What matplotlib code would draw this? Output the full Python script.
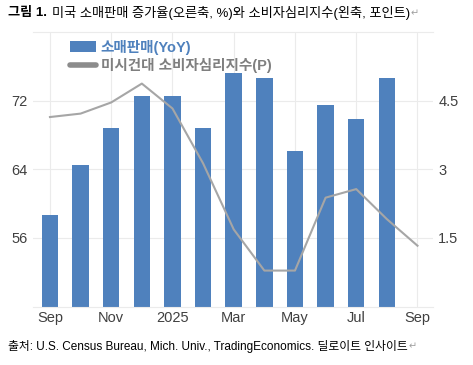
import matplotlib

matplotlib.use("Agg")
import matplotlib.pyplot as plt
from matplotlib.lines import Line2D
from matplotlib.patches import Patch

plt.rcParams["font.family"] = ["Liberation Sans", "Noto Sans CJK KR", "DejaVu Sans"]

# monthly data, Sep 2024 .. Sep 2025
months = ["Sep", "Oct", "Nov", "Dec", "2025", "Feb", "Mar", "Apr", "May", "Jun", "Jul", "Aug", "Sep"]
retail_yoy = [2.0, 3.1, 3.9, 4.6, 4.6, 3.9, 5.1, 5.0, 3.4, 4.4, 4.1, 5.0, None]
sentiment = [70.1, 70.5, 71.8, 74.0, 71.1, 64.7, 57.0, 52.2, 52.2, 60.7, 61.7, 58.2, 55.1]
tick_idx = [0, 2, 4, 6, 8, 10, 12]

BAR_COLOR = "#4f81bd"
LINE_COLOR = "#a6a6a6"
GRID_COLOR = "#ebebeb"
TEXT_COLOR = "#404040"

fig = plt.figure(figsize=(4.73, 3.65), dpi=100)
ax = fig.add_axes([0.070, 0.160, 0.845, 0.752])

x = list(range(len(months)))
bar_x = [i for i, v in zip(x, retail_yoy) if v is not None]
bar_v = [v for v in retail_yoy if v is not None]
ax.bar(bar_x, bar_v, width=0.54, color=BAR_COLOR, zorder=2)
ax.set_ylim(0, 6)
ax.set_xlim(-0.55, 12.5)
ax.set_xticks(tick_idx)
ax.set_xticklabels([months[i] for i in tick_idx])
ax.grid(True, color=GRID_COLOR, linewidth=0.8, zorder=0)
ax.set_axisbelow(True)
for side in ["left", "right"]:
    ax.spines[side].set_visible(False)
ax.spines["top"].set_color(GRID_COLOR)
ax.spines["bottom"].set_color(GRID_COLOR)

ax_line = ax.twinx()
ax_line.plot(x, sentiment, color=LINE_COLOR, linewidth=1.5, zorder=3)
ax_line.set_ylim(48, 80)
ax_line.set_yticks([56, 64, 72])
ax_line.yaxis.tick_left()
ax_line.tick_params(length=0, labelsize=10.5, colors=TEXT_COLOR, pad=4)
for spine in ax_line.spines.values():
    spine.set_visible(False)

# twinx moves the host ticks to the left, so put them back on the right
ax.yaxis.tick_right()
ax.set_yticks([1.5, 3, 4.5])
ax.set_yticklabels(["1.5", "3", "4.5"])
ax.tick_params(length=0, labelsize=10.5, colors=TEXT_COLOR, pad=4)
ax.tick_params(axis="x", pad=3)

handles = [
    Patch(facecolor=BAR_COLOR, edgecolor="none"),
    Line2D([0], [0], color="#8c8c8c", linewidth=4, solid_capstyle="round"),
]
leg = ax_line.legend(
    handles,
    ["소매판매(YoY)", "미시건대 소비자심리지수(P)"],
    loc="upper left",
    bbox_to_anchor=(0.06, 1.02),
    frameon=False,
    handlelength=1.8,
    handleheight=0.8,
    handletextpad=0.3,
    labelspacing=0.25,
    prop={"size": 10.5, "weight": "bold"},
)
for text, color in zip(leg.get_texts(), [BAR_COLOR, "#7f7f7f"]):
    text.set_color(color)

renderer = fig.canvas.get_renderer()
head = fig.text(0.017, 0.965, "그림 1.", fontsize=9.5, fontweight="bold", color="black", va="center")
head_end = head.get_window_extent(renderer).x1 / fig.bbox.width
title = fig.text(head_end + 0.01, 0.965, "미국 소매판매 증가율(오른축, %)와 소비자심리지수(왼축, 포인트)",
                 fontsize=9.5, color="black", va="center")
title_end = title.get_window_extent(renderer).x1 / fig.bbox.width
fig.text(title_end + 0.002, 0.963, "↵", fontsize=7, color="#a0a0a0", va="center",
         family=["DejaVu Sans"])
foot = fig.text(0.017, 0.052, "출처: U.S. Census Bureau, Mich. Univ., TradingEconomics. 딜로이트 인사이트",
                fontsize=8.5, color="black", va="center")
foot_end = foot.get_window_extent(renderer).x1 / fig.bbox.width
fig.text(foot_end + 0.002, 0.05, "↵", fontsize=7, color="#a0a0a0", va="center",
         family=["DejaVu Sans"])

fig.savefig("out.png", dpi=100)
